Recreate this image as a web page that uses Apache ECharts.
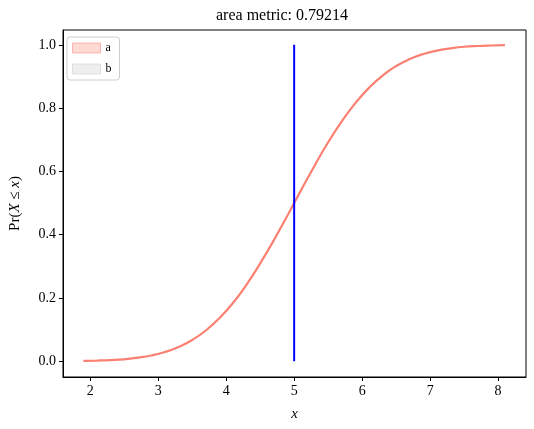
<!DOCTYPE html>
<html>
<head>
<meta charset="utf-8">
<script src="https://cdn.jsdelivr.net/npm/echarts@6/dist/echarts.min.js"></script>
<style>
  html, body { margin: 0; padding: 0; background: #fff; }
  #chart { width: 534px; height: 429px; }
</style>
</head>
<body>
<div id="chart"></div>
<script>
// values
const xs = [1.9, 2.1, 2.3, 2.5, 2.7, 2.9, 3.1, 3.3, 3.5, 3.7, 3.9, 4.1, 4.3, 4.5, 4.7, 4.9,
  5.1, 5.3, 5.5, 5.7, 5.9, 6.1, 6.3, 6.5, 6.7, 6.9, 7.1, 7.3, 7.5, 7.7, 7.9, 8.1]
const cdf = [0.001, 0.002, 0.0035, 0.006, 0.011, 0.018, 0.029, 0.045, 0.067, 0.097, 0.136, 0.184,
  0.242, 0.309, 0.382, 0.46, 0.54, 0.618, 0.692, 0.758, 0.816, 0.864, 0.903, 0.933, 0.955,
  0.971, 0.982, 0.989, 0.994, 0.9965, 0.998, 0.999]
const markX = [5, 5]
const markY = [0, 1]
const xTicks = [2, 3, 4, 5, 6, 7, 8]
const yTicks = [0, 0.2, 0.4, 0.6, 0.8, 1.0]
const areaMetric = '0.79214'

const serif = 'Liberation Serif'
const chart = echarts.init(document.getElementById('chart'))

chart.setOption({
  animation: false,
  title: {
    text: 'area metric: ' + areaMetric,
    left: 211,
    top: 3,
    textStyle: { fontFamily: serif, fontSize: 16, fontWeight: 'normal', color: '#000' },
  },
  legend: {
    left: 67,
    top: 37,
    orient: 'vertical',
    itemWidth: 28,
    itemHeight: 10,
    itemGap: 9,
    padding: [5, 8, 5, 5],
    borderColor: '#ccc',
    borderWidth: 1,
    borderRadius: 3,
    textStyle: { fontFamily: serif, fontSize: 12, color: '#000' },
    data: [
      { name: 'a', icon: 'rect', itemStyle: { color: 'rgba(250,128,114,0.3)', borderColor: 'rgba(250,128,114,0.5)', borderWidth: 1 } },
      { name: 'b', icon: 'rect', itemStyle: { color: 'rgba(200,200,200,0.3)', borderColor: 'rgba(200,200,200,0.5)', borderWidth: 1 } },
    ],
  },
  grid: { left: 60, right: 8, top: 30, bottom: 52, show: true, borderColor: '#000', borderWidth: 1 },
  xAxis: {
    type: 'value',
    min: 1.6,
    max: 8.41,
    name: 'x',
    nameLocation: 'middle',
    nameGap: 30,
    nameTextStyle: { fontFamily: serif, fontStyle: 'italic', fontSize: 15, color: '#000' },
    axisLine: { show: true, onZero: false, lineStyle: { color: '#000' } },
    axisTick: { show: true, length: 4, lineStyle: { color: '#000' }, customValues: xTicks },
    axisLabel: { fontFamily: serif, fontSize: 14, color: '#000', margin: 7, customValues: xTicks },
    splitLine: { show: false },
  },
  yAxis: {
    type: 'value',
    min: -0.05,
    max: 1.047,
    name: '{r|Pr(}{i|X}{r| ≤ }{i|x}{r|)}',
    nameLocation: 'middle',
    nameGap: 40,
    nameRotate: 90,
    nameTextStyle: {
      rich: {
        r: { fontFamily: serif, fontSize: 15, color: '#000' },
        i: { fontFamily: serif, fontStyle: 'italic', fontSize: 15, color: '#000' },
      },
    },
    axisLine: { show: true, onZero: false, lineStyle: { color: '#000' } },
    axisTick: { show: true, length: 4, lineStyle: { color: '#000' }, customValues: yTicks },
    axisLabel: {
      fontFamily: serif, fontSize: 14, color: '#000', margin: 7, customValues: yTicks,
      formatter: (v) => v.toFixed(1),
    },
    splitLine: { show: false },
  },
  series: [
    {
      name: 'a',
      type: 'line',
      data: xs.map((x, i) => [x, cdf[i]]),
      smooth: true,
      symbol: 'none',
      lineStyle: { color: '#fa8072', width: 2.2 },
      itemStyle: { color: '#fa8072' },
    },
    {
      name: 'b',
      type: 'line',
      data: markX.map((x, i) => [x, markY[i]]),
      symbol: 'none',
      lineStyle: { color: '#0000ff', width: 2 },
      itemStyle: { color: '#0000ff' },
    },
  ],
})
</script>
</body>
</html>
